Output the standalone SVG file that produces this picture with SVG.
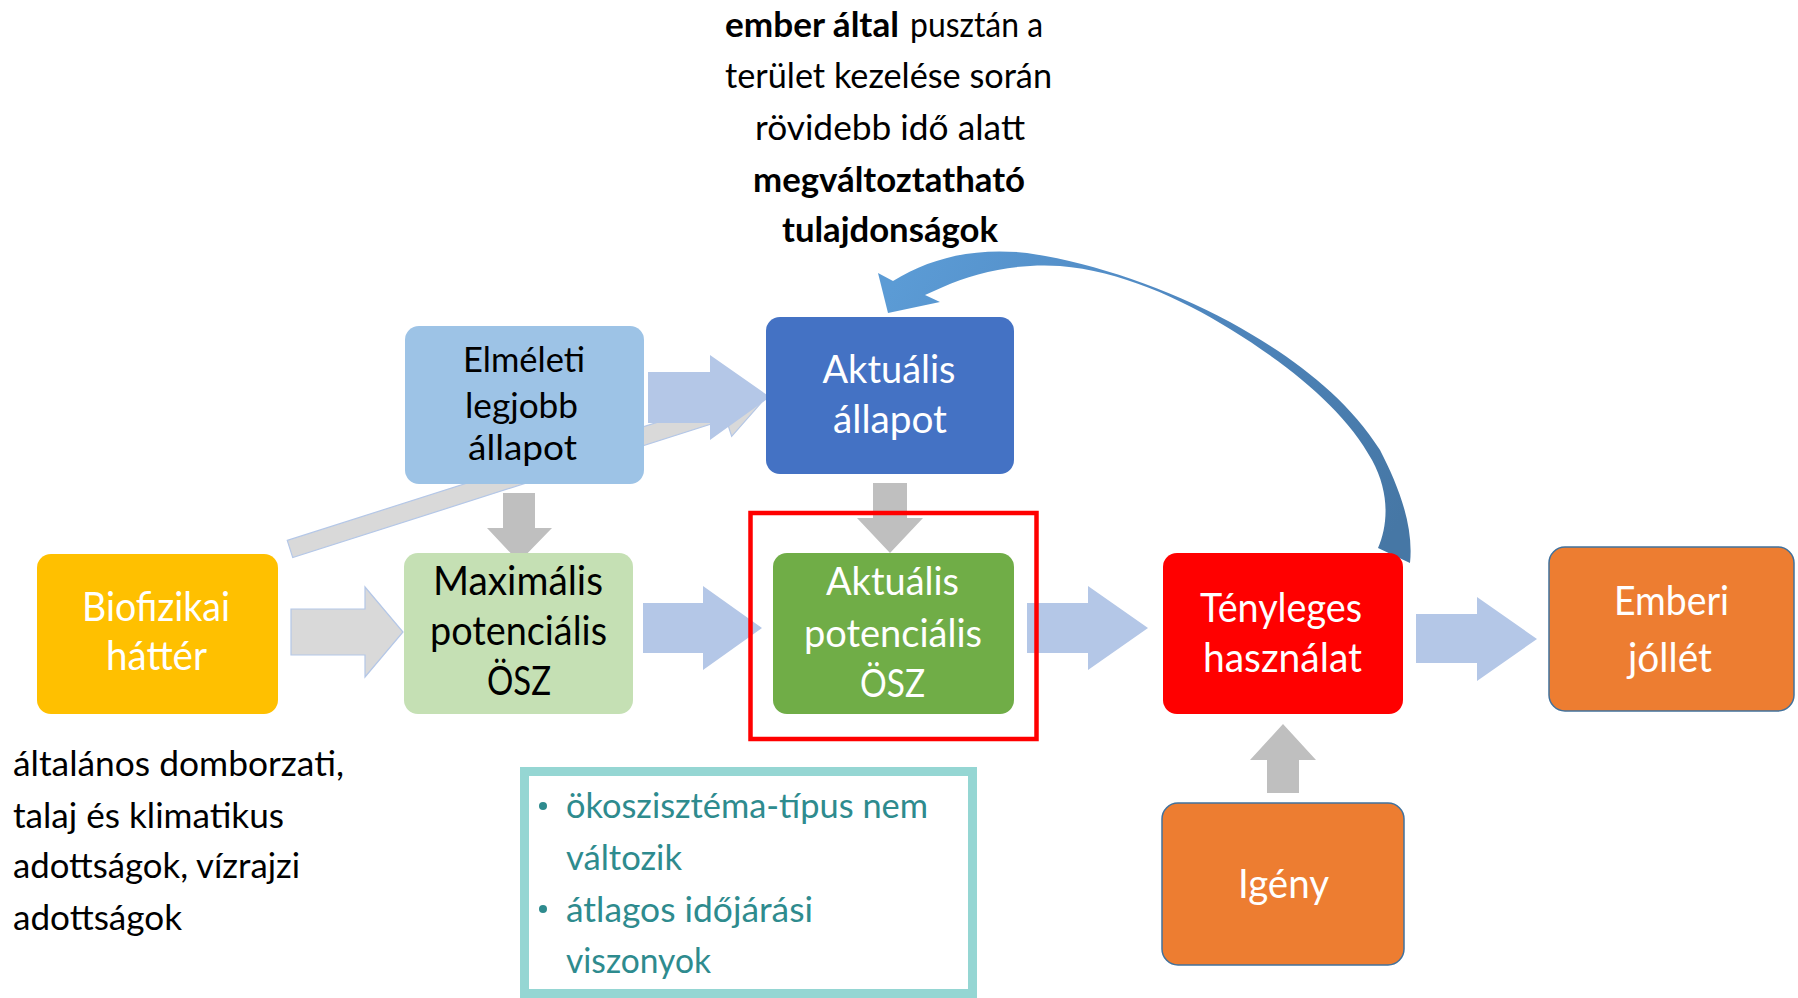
<svg xmlns="http://www.w3.org/2000/svg" width="1798" height="998" viewBox="0 0 1798 998">
<defs>
<style>
text{font-family:Lato,"Liberation Sans",sans-serif;}
.lbl{font-size:41px;text-anchor:middle;}
.w{fill:#FFFFFF;}
.k{fill:#000000;}
.note{font-size:35px;fill:#000000;}
.b{font-weight:bold;}
.teal{font-size:35px;fill:#2E8B8E;}
.blueA{fill:#B4C7E7;}
.grayA{fill:#D9D9D9;stroke:#B4C7E7;stroke-width:1.2;}
.grayD{fill:#BFBFBF;}
.out{stroke:#41719C;stroke-width:1.5;}
</style>
<linearGradient id="cg" gradientUnits="userSpaceOnUse" x1="900" y1="270" x2="1400" y2="520">
<stop offset="0" stop-color="#5B9BD5"/>
<stop offset="0.45" stop-color="#5089C2"/>
<stop offset="1" stop-color="#4677A5"/>
</linearGradient>
</defs>
<rect width="1798" height="998" fill="#FFFFFF"/>

<g id="connectors">
<g transform="translate(290,549) rotate(-17.7)">
<polygon class="grayA" points="0,-9 455,-9 455,-27 500,0 455,27 455,9 0,9"/>
</g>
<polygon class="grayA" points="291,609 365,609 365,587 403,632 365,677 365,655 291,655"/>
<polygon class="blueA" points="648,372 710,372 710,355 770,397 710,440 710,423 648,423"/>
<polygon class="grayD" points="503,493 535,493 535,528 552,528 519,562 487,528 503,528"/>
<polygon class="grayD" points="873,483 907,483 907,518 923,518 890,553 857,518 873,518"/>
<polygon class="blueA" points="643,603 703,603 703,586 762,628 703,670 703,653 643,653"/>
<polygon class="blueA" points="1027,603 1088,603 1088,586 1148,628 1088,670 1088,653 1027,653"/>
<polygon class="blueA" points="1416,614 1477,614 1477,597 1537,639 1477,681 1477,663 1416,663"/>
<polygon class="grayD" points="1267,793 1299,793 1299,760 1316,760 1283,724 1250,760 1267,760"/>
<path fill="url(#cg)" d="M1410,563 C1414,525 1398,485 1380,450 C1345,395 1290,355 1230,322 C1165,287 1090,262 1027,253 C975,247 930,258 893,281 L878,273 L888,313 L940,302 L925,295 L943,287 C975,272 1020,263 1060,266 C1120,271 1180,298 1230,329 C1290,366 1345,410 1372,460 C1390,493 1388,525 1378,548 Z"/>
</g>

<g id="highlight">
<rect x="750.5" y="513" width="286" height="226" fill="none" stroke="#FF0000" stroke-width="4.5"/>
</g>

<g id="node-biofizikai">
<rect x="37" y="554" width="241" height="160" rx="14" fill="#FFC000"/>
<text class="lbl w" x="156" y="621" textLength="148" lengthAdjust="spacingAndGlyphs">Biofizikai</text>
<text class="lbl w" x="156.5" y="670" textLength="101" lengthAdjust="spacingAndGlyphs">háttér</text>
</g>

<g id="node-elmeleti">
<rect x="405" y="326" width="239" height="158" rx="14" fill="#9DC3E6"/>
<text class="lbl k" style="font-size:35px" x="524" y="372" textLength="122" lengthAdjust="spacingAndGlyphs">Elméleti</text>
<text class="lbl k" style="font-size:35px" x="521.5" y="418" textLength="113" lengthAdjust="spacingAndGlyphs">legjobb</text>
<text class="lbl k" style="font-size:35px" x="522.5" y="460" textLength="109" lengthAdjust="spacingAndGlyphs">állapot</text>
</g>

<g id="node-maximalis">
<rect x="404" y="553" width="229" height="161" rx="14" fill="#C5E0B4"/>
<text class="lbl k" x="518" y="595" textLength="170" lengthAdjust="spacingAndGlyphs">Maximális</text>
<text class="lbl k" x="518.5" y="645" textLength="177" lengthAdjust="spacingAndGlyphs">potenciális</text>
<text class="lbl k" x="519" y="695" textLength="64" lengthAdjust="spacingAndGlyphs">ÖSZ</text>
</g>

<g id="node-aktualis-allapot">
<rect x="766" y="317" width="248" height="157" rx="14" fill="#4472C4"/>
<text class="lbl w" style="font-size:38px" x="889" y="383" textLength="133" lengthAdjust="spacingAndGlyphs">Aktuális</text>
<text class="lbl w" style="font-size:38px" x="890" y="433" textLength="114" lengthAdjust="spacingAndGlyphs">állapot</text>
</g>

<g id="node-aktualis-potencialis">
<rect x="773" y="553" width="241" height="161" rx="14" fill="#70AD47"/>
<text class="lbl w" style="font-size:39px" x="892.5" y="595" textLength="133" lengthAdjust="spacingAndGlyphs">Aktuális</text>
<text class="lbl w" style="font-size:39px" x="893" y="647" textLength="178" lengthAdjust="spacingAndGlyphs">potenciális</text>
<text class="lbl w" style="font-size:39px" x="892.5" y="697" textLength="65" lengthAdjust="spacingAndGlyphs">ÖSZ</text>
</g>

<g id="node-tenyleges">
<rect x="1163" y="553" width="240" height="161" rx="14" fill="#FF0000"/>
<text class="lbl w" x="1281" y="622" textLength="162" lengthAdjust="spacingAndGlyphs">Tényleges</text>
<text class="lbl w" x="1282.5" y="672" textLength="159" lengthAdjust="spacingAndGlyphs">használat</text>
</g>

<g id="node-emberi">
<rect x="1549" y="547" width="245" height="164" rx="16" fill="#ED7D31" class="out"/>
<text class="lbl w" x="1671.5" y="615" textLength="115" lengthAdjust="spacingAndGlyphs">Emberi</text>
<text class="lbl w" x="1670" y="672" textLength="84" lengthAdjust="spacingAndGlyphs">jóllét</text>
</g>

<g id="node-igeny">
<rect x="1162" y="803" width="242" height="162" rx="16" fill="#ED7D31" class="out"/>
<text class="lbl w" x="1283.5" y="898" textLength="91" lengthAdjust="spacingAndGlyphs">Igény</text>
</g>

<g id="note-top">
<text class="note"><tspan class="b" x="725" y="37" textLength="174" lengthAdjust="spacingAndGlyphs">ember által</tspan><tspan x="910" y="37" textLength="133" lengthAdjust="spacingAndGlyphs">pusztán a</tspan></text>
<text class="note" x="725" y="88" textLength="327" lengthAdjust="spacingAndGlyphs">terület kezelése során</text>
<text class="note" x="755" y="140" textLength="270" lengthAdjust="spacingAndGlyphs">rövidebb idő alatt</text>
<text class="note b" x="753" y="192" textLength="272" lengthAdjust="spacingAndGlyphs">megváltoztatható</text>
<text class="note b" x="782" y="242" textLength="216" lengthAdjust="spacingAndGlyphs">tulajdonságok</text>
</g>

<g id="note-left">
<text class="note" x="13" y="776" textLength="331" lengthAdjust="spacingAndGlyphs">általános domborzati,</text>
<text class="note" x="13" y="828" textLength="271" lengthAdjust="spacingAndGlyphs">talaj és klimatikus</text>
<text class="note" x="13" y="878" textLength="287" lengthAdjust="spacingAndGlyphs">adottságok, vízrajzi</text>
<text class="note" x="13" y="930" textLength="169" lengthAdjust="spacingAndGlyphs">adottságok</text>
</g>

<g id="note-box">
<rect x="524.5" y="771.5" width="448" height="222" fill="#FFFFFF" stroke="#95D6D3" stroke-width="9"/>
<circle cx="543" cy="806" r="4" fill="#2E8B8E"/>
<circle cx="543" cy="909" r="4" fill="#2E8B8E"/>
<text class="teal" x="566" y="818" textLength="362" lengthAdjust="spacingAndGlyphs">ökoszisztéma-típus nem</text>
<text class="teal" x="566" y="870" textLength="116" lengthAdjust="spacingAndGlyphs">változik</text>
<text class="teal" x="566" y="922" textLength="247" lengthAdjust="spacingAndGlyphs">átlagos időjárási</text>
<text class="teal" x="566" y="973" textLength="145" lengthAdjust="spacingAndGlyphs">viszonyok</text>
</g>
</svg>
